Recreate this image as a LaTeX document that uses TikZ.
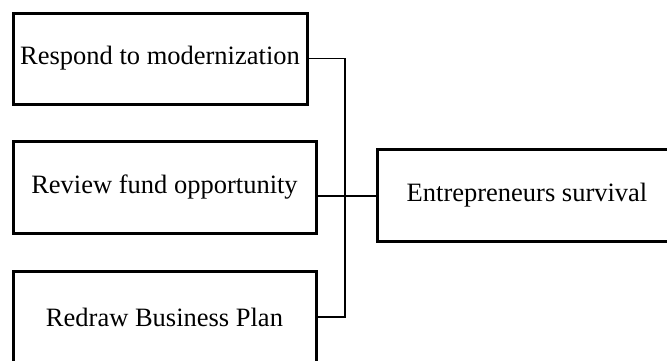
\documentclass[tikz,border=0pt]{standalone}
\usepackage{fontspec}
\setmainfont{Liberation Serif}
\usepackage{tikz}
\usetikzlibrary{shapes,arrows,positioning,calc}

\begin{document}
\begin{tikzpicture}[x=0.5pt,y=-0.5pt,
    stage/.style={rectangle, draw=black, line width=1.5pt, text centered, minimum height=46pt, inner sep=0pt, font=\fontsize{13.25}{16}\selectfont},
    link/.style={draw=black, line width=0.65pt}]
    \useasboundingbox (0,0) rectangle (667,360);
    \node (respond) [stage, minimum width=147pt, minimum height=45.5pt] at (160,58.5) {Respond to modernization};
    \node (review) [stage, minimum width=151.5pt] at (164.5,187) {Review fund opportunity};
    \node (redraw) [stage, minimum width=151.5pt] at (164.5,317) {Redraw Business Plan};
    \node (survival) [stage, minimum width=150pt] at (527,195) {Entrepreneurs survival};
    \coordinate (join) at (345,196);
    \draw [link] (respond.east) -| (join);
    \draw [link] (redraw.east) -| (join);
    \draw [link] (review.east |- join) -- ($(join)+(10,0)$);
    \draw [line width=1pt] (join) -- (survival.west |- join);
  \end{tikzpicture}
\end{document}
